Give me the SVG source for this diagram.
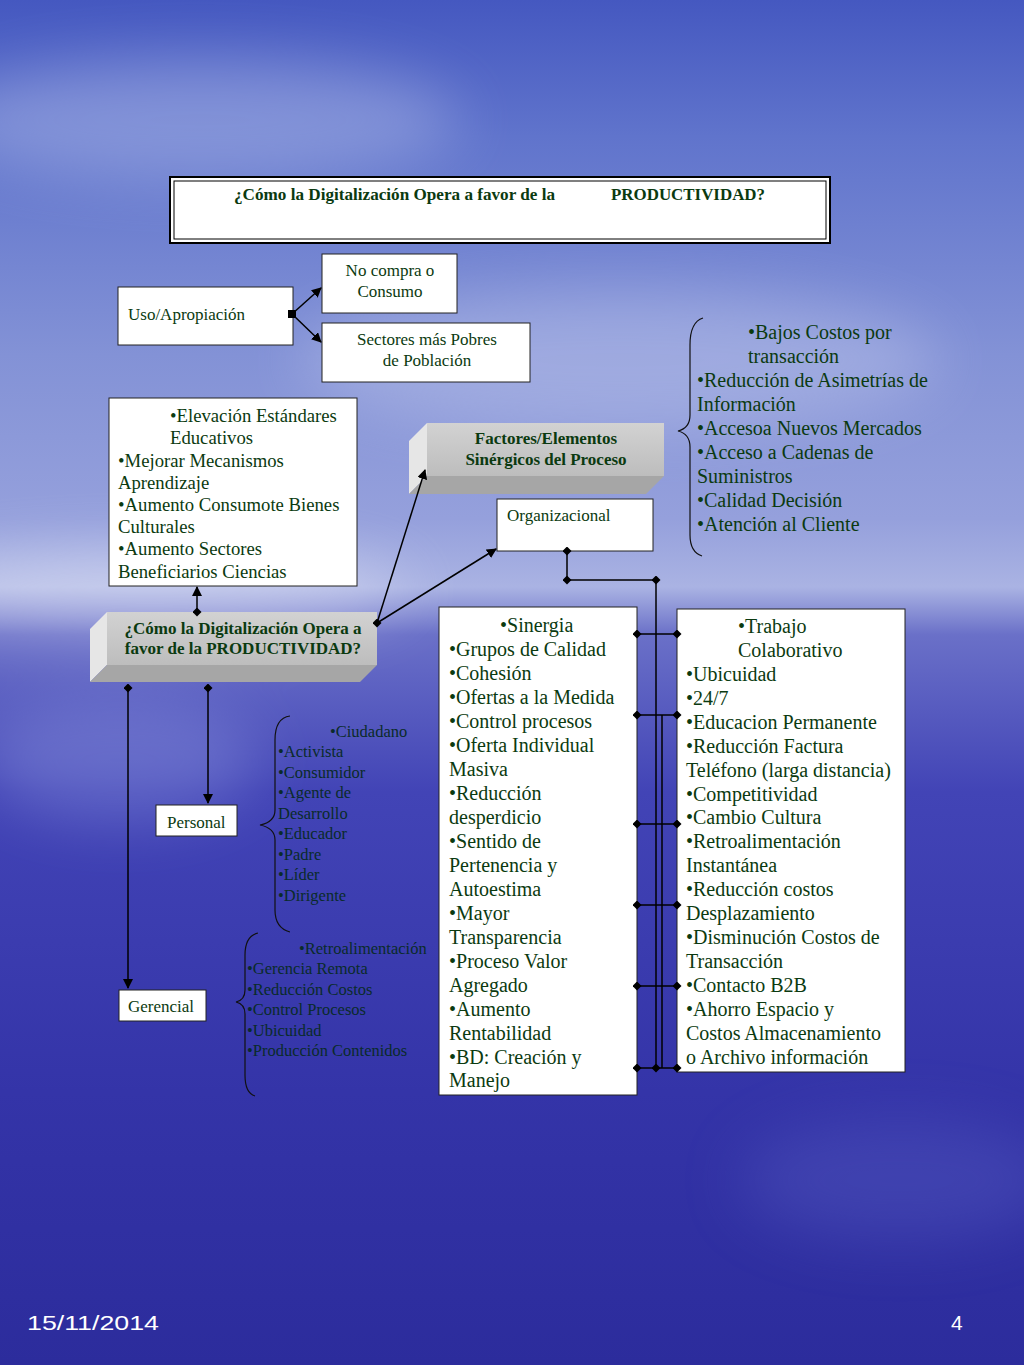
<svg xmlns="http://www.w3.org/2000/svg" width="1024" height="1365" viewBox="0 0 1024 1365">
<defs>
<linearGradient id="bg" x1="0" y1="0" x2="0" y2="1">
<stop offset="0" stop-color="#4558c0"/>
<stop offset="0.1" stop-color="#6074cc"/>
<stop offset="0.26" stop-color="#8392d6"/>
<stop offset="0.38" stop-color="#95a0dc"/>
<stop offset="0.43" stop-color="#aab3e3"/>
<stop offset="0.465" stop-color="#6a70c8"/>
<stop offset="0.58" stop-color="#4244b6"/>
<stop offset="0.8" stop-color="#3434a8"/>
<stop offset="1" stop-color="#2c2c9c"/>
</linearGradient>
<linearGradient id="front" x1="0" y1="0" x2="0" y2="1">
<stop offset="0" stop-color="#d2d2d2"/>
<stop offset="1" stop-color="#bdbdbd"/>
</linearGradient>
<filter id="blur" x="-50%" y="-50%" width="200%" height="200%"><feGaussianBlur stdDeviation="30"/></filter>
<marker id="arr" viewBox="0 0 10 10" refX="9" refY="5" markerWidth="10" markerHeight="10" markerUnits="userSpaceOnUse" orient="auto"><path d="M0,0 L10,5 L0,10 z" fill="#000"/></marker>
<marker id="dia" viewBox="0 0 10 10" refX="5" refY="5" markerWidth="9" markerHeight="9" markerUnits="userSpaceOnUse"><path d="M5,0 L10,5 L5,10 L0,5 z" fill="#000"/></marker>
<marker id="sq" viewBox="0 0 10 10" refX="5" refY="5" markerWidth="8" markerHeight="8" markerUnits="userSpaceOnUse"><rect width="10" height="10" fill="#000"/></marker>
</defs>
<style>
.box{fill:#fff;stroke:#222;stroke-width:1}
.t{font-family:"Liberation Serif","Times New Roman",serif;fill:#0b3a10}
.b{font-weight:bold}
.s14{font-size:17px}
.s15{font-size:16.5px}
.s17{font-size:18.7px}
.s18{font-size:20px}
.dk{fill:#0a2b2a}
.ln{stroke:#000;stroke-width:1.5;fill:none}
.brace{stroke:#111;stroke-width:1.2;fill:none}
.foot{font-family:"Liberation Sans",Arial,sans-serif;font-size:21px;fill:#fff}
</style>
<rect width="1024" height="1365" fill="url(#bg)"/>
<g opacity="0.35" filter="url(#blur)">
<ellipse cx="200" cy="120" rx="260" ry="60" fill="#c8d0f0"/>
<ellipse cx="620" cy="360" rx="320" ry="70" fill="#d0d6f2"/>
<ellipse cx="150" cy="590" rx="260" ry="40" fill="#ffffff"/>
<ellipse cx="120" cy="760" rx="140" ry="60" fill="#9aa4e6"/>
<ellipse cx="900" cy="1180" rx="160" ry="60" fill="#5a60c4"/>
</g>

<g id="title">
<rect x="170" y="177" width="660" height="66" fill="#fff" stroke="#000" stroke-width="2"/>
<rect x="174" y="181" width="652" height="58" fill="none" stroke="#000" stroke-width="1"/>
<text class="t b s14" x="234" y="200" textLength="321" lengthAdjust="spacingAndGlyphs">¿Cómo la Digitalización Opera a favor de la</text>
<text class="t b s14" x="611" y="200" textLength="154" lengthAdjust="spacingAndGlyphs">PRODUCTIVIDAD?</text>
</g>

<g id="uso">
<rect class="box" x="118" y="287" width="175" height="58"/>
<text class="t s14" x="128" y="320">Uso/Apropiación</text>
</g>
<g id="nocompra">
<rect class="box" x="322" y="254" width="135" height="59"/>
<text class="t s14" x="390" y="276" text-anchor="middle">No compra o</text>
<text class="t s14" x="390" y="297" text-anchor="middle">Consumo</text>
</g>
<g id="sectores">
<rect class="box" x="322" y="323" width="208" height="59"/>
<text class="t s14" x="427" y="345" text-anchor="middle">Sectores más Pobres</text>
<text class="t s14" x="427" y="366" text-anchor="middle">de Población</text>
</g>

<g id="educ">
<rect class="box" x="109" y="398" width="248" height="188"/>
<text class="t s17" x="170" y="422">•Elevación Estándares</text>
<text class="t s17" x="170" y="444">Educativos</text>
<text class="t s17" x="118" y="467">•Mejorar Mecanismos</text>
<text class="t s17" x="118" y="489">Aprendizaje</text>
<text class="t s17" x="118" y="511">•Aumento Consumote Bienes</text>
<text class="t s17" x="118" y="533">Culturales</text>
<text class="t s17" x="118" y="555">•Aumento Sectores</text>
<text class="t s17" x="118" y="578">Beneficiarios Ciencias</text>
</g>

<g id="factores">
<polygon points="427,423 409,441 409,494 427,476" fill="#e6e6e6"/>
<polygon points="427,476 664,476 646,494 409,494" fill="#a6a6a6"/>
<rect x="427" y="423" width="237" height="53" fill="url(#front)"/>
<text class="t b s14" x="546" y="444" text-anchor="middle">Factores/Elementos</text>
<text class="t b s14" x="546" y="465" text-anchor="middle">Sinérgicos del Proceso</text>
</g>

<g id="organizacional">
<rect class="box" x="497" y="499" width="156" height="52"/>
<text class="t s14" x="507" y="521">Organizacional</text>
</g>

<g id="central">
<polygon points="107,612 90,629 90,682 107,665" fill="#e6e6e6"/>
<polygon points="107,665 377,665 360,682 90,682" fill="#a6a6a6"/>
<rect x="107" y="612" width="270" height="53" fill="url(#front)"/>
<text class="t b s14" x="243" y="634" text-anchor="middle">¿Cómo la Digitalización Opera a</text>
<text class="t b s14" x="243" y="654" text-anchor="middle">favor de la PRODUCTIVIDAD?</text>
</g>

<g id="personal">
<rect class="box" x="156" y="805" width="81" height="31"/>
<text class="t s14" x="167" y="828">Personal</text>
</g>
<g id="gerencial">
<rect class="box" x="119" y="990" width="87" height="31"/>
<text class="t s14" x="128" y="1012">Gerencial</text>
</g>

<g id="personal-list">
<path class="brace" d="M290,716 Q275,718 275,740 L275,810 Q275,822 260,825 Q275,828 275,840 L275,910 Q275,928 290,932"/>
<text class="t s15 dk" x="330" y="737">•Ciudadano</text>
<text class="t s15 dk" x="278" y="757">•Activista</text>
<text class="t s15 dk" x="278" y="778">•Consumidor</text>
<text class="t s15 dk" x="278" y="798">•Agente de</text>
<text class="t s15 dk" x="278" y="819">Desarrollo</text>
<text class="t s15 dk" x="278" y="839">•Educador</text>
<text class="t s15 dk" x="278" y="860">•Padre</text>
<text class="t s15 dk" x="278" y="880">•Líder</text>
<text class="t s15 dk" x="278" y="901">•Dirigente</text>
</g>

<g id="gerencial-list">
<path class="brace" d="M258,933 Q245,936 245,955 L245,990 Q245,1000 236,1002 Q245,1004 245,1014 L245,1075 Q245,1093 255,1096"/>
<text class="t s15 dk" x="299" y="954">•Retroalimentación</text>
<text class="t s15 dk" x="247" y="974">•Gerencia Remota</text>
<text class="t s15 dk" x="247" y="995">•Reducción Costos</text>
<text class="t s15 dk" x="247" y="1015">•Control Procesos</text>
<text class="t s15 dk" x="247" y="1036">•Ubicuidad</text>
<text class="t s15 dk" x="247" y="1056">•Producción Contenidos</text>
</g>

<g id="right-list">
<path class="brace" d="M703,318 Q690,322 690,345 L690,415 Q690,428 678,431 Q690,434 690,447 L690,535 Q690,552 702,556"/>
<text class="t s18" x="748" y="339">•Bajos Costos por</text>
<text class="t s18" x="748" y="363">transacción</text>
<text class="t s18" x="697" y="387">•Reducción de Asimetrías de</text>
<text class="t s18" x="697" y="411">Información</text>
<text class="t s18" x="697" y="435">•Accesoa Nuevos Mercados</text>
<text class="t s18" x="697" y="459">•Acceso a Cadenas de</text>
<text class="t s18" x="697" y="483">Suministros</text>
<text class="t s18" x="697" y="507">•Calidad Decisión</text>
<text class="t s18" x="697" y="531">•Atención al Cliente</text>
</g>

<g id="sinergia">
<rect class="box" x="439" y="607" width="198" height="488"/>
<text class="t s18" x="500" y="632">•Sinergia</text>
<text class="t s18" x="449" y="656">•Grupos de Calidad</text>
<text class="t s18" x="449" y="680">•Cohesión</text>
<text class="t s18" x="449" y="704">•Ofertas a la Medida</text>
<text class="t s18" x="449" y="728">•Control procesos</text>
<text class="t s18" x="449" y="752">•Oferta Individual</text>
<text class="t s18" x="449" y="776">Masiva</text>
<text class="t s18" x="449" y="800">•Reducción</text>
<text class="t s18" x="449" y="824">desperdicio</text>
<text class="t s18" x="449" y="848">•Sentido de</text>
<text class="t s18" x="449" y="872">Pertenencia y</text>
<text class="t s18" x="449" y="896">Autoestima</text>
<text class="t s18" x="449" y="920">•Mayor</text>
<text class="t s18" x="449" y="944">Transparencia</text>
<text class="t s18" x="449" y="968">•Proceso Valor</text>
<text class="t s18" x="449" y="992">Agregado</text>
<text class="t s18" x="449" y="1016">•Aumento</text>
<text class="t s18" x="449" y="1040">Rentabilidad</text>
<text class="t s18" x="449" y="1064">•BD: Creación y</text>
<text class="t s18" x="449" y="1087">Manejo</text>
</g>

<g id="trabajo">
<rect class="box" x="677" y="609" width="228" height="463"/>
<text class="t s18" x="738" y="633">•Trabajo</text>
<text class="t s18" x="738" y="657">Colaborativo</text>
<text class="t s18" x="686" y="681">•Ubicuidad</text>
<text class="t s18" x="686" y="705">•24/7</text>
<text class="t s18" x="686" y="729">•Educacion Permanente</text>
<text class="t s18" x="686" y="753">•Reducción Factura</text>
<text class="t s18" x="686" y="777">Teléfono (larga distancia)</text>
<text class="t s18" x="686" y="801">•Competitividad</text>
<text class="t s18" x="686" y="824">•Cambio Cultura</text>
<text class="t s18" x="686" y="848">•Retroalimentación</text>
<text class="t s18" x="686" y="872">Instantánea</text>
<text class="t s18" x="686" y="896">•Reducción costos</text>
<text class="t s18" x="686" y="920">Desplazamiento</text>
<text class="t s18" x="686" y="944">•Disminución Costos de</text>
<text class="t s18" x="686" y="968">Transacción</text>
<text class="t s18" x="686" y="992">•Contacto B2B</text>
<text class="t s18" x="686" y="1016">•Ahorro Espacio y</text>
<text class="t s18" x="686" y="1040">Costos Almacenamiento</text>
<text class="t s18" x="686" y="1064">o Archivo información</text>
</g>

<g id="connectors">
<path class="ln" d="M292,314 L321,288" marker-start="url(#sq)" marker-end="url(#arr)"/>
<path class="ln" d="M292,314 L321,342" marker-end="url(#arr)"/>
<path class="ln" d="M197,612 L197,587" marker-start="url(#dia)" marker-end="url(#arr)"/>
<path class="ln" d="M377,623 L425,470" marker-start="url(#dia)" marker-end="url(#arr)"/>
<path class="ln" d="M377,623 L496,549" marker-end="url(#arr)"/>
<path class="ln" d="M128,688 L128,988" marker-start="url(#dia)" marker-end="url(#arr)"/>
<path class="ln" d="M208,688 L208,803" marker-start="url(#dia)" marker-end="url(#arr)"/>
<path class="ln" d="M567,551 L567,580 L656,580" marker-start="url(#dia)" marker-mid="url(#dia)" marker-end="url(#dia)"/>
<path class="ln" d="M656,580 L656,1068"/>
<path class="ln" d="M662,715 L662,1068"/>
<path class="ln" d="M637,634 L677,634" marker-start="url(#dia)" marker-end="url(#dia)"/>
<path class="ln" d="M637,715 L677,715" marker-start="url(#dia)" marker-end="url(#dia)"/>
<path class="ln" d="M637,824 L677,824" marker-start="url(#dia)" marker-end="url(#dia)"/>
<path class="ln" d="M637,905 L677,905" marker-start="url(#dia)" marker-end="url(#dia)"/>
<path class="ln" d="M637,986 L677,986" marker-start="url(#dia)" marker-end="url(#dia)"/>
<path class="ln" d="M637,1068 L656,1068 L677,1068" marker-start="url(#dia)" marker-mid="url(#dia)" marker-end="url(#dia)"/>
</g>

<text class="foot" x="27" y="1330" textLength="132" lengthAdjust="spacingAndGlyphs">15/11/2014</text>
<text class="foot" x="951" y="1330">4</text>
</svg>
